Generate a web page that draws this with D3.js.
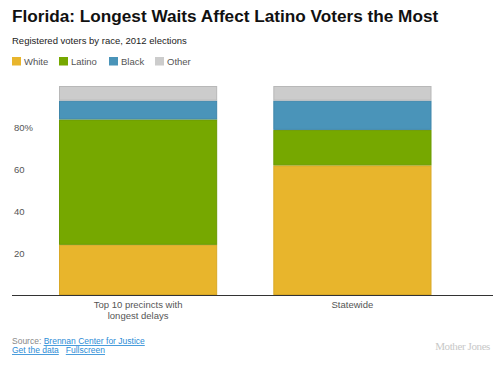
<!DOCTYPE html>
<html>
<head>
<meta charset="utf-8">
<script src="https://cdn.jsdelivr.net/npm/d3@7"></script>
<style>
  body { margin: 0; background: #fff; font-family: Arial, "Liberation Sans", sans-serif; }
</style>
</head>
<body>
<script>
// chart data
const categories = ["Top 10 precincts with longest delays", "Statewide"]
const races = ["White", "Latino", "Black", "Other"]
const white = [24, 62]
const latino = [60, 17]
const black = [9, 14]
const other = [7, 7]
const yTicks = [20, 40, 60, 80]

const colors = ["#e8b52c", "#76a800", "#4a94b9", "#cccccc"]
const strokes = ["#d9a826", "#6b9a00", "#3f86aa", "#b8b8b8"]

const width = 500, height = 365
const margin = { top: 86, bottom: 70 }

const svg = d3.select("body").append("svg")
    .attr("width", width)
    .attr("height", height)
    .style("font-family", "Arial, 'Liberation Sans', sans-serif")

// title block
svg.append("text")
    .attr("x", 12).attr("y", 22)
    .attr("font-size", 17.2).attr("font-weight", "bold").attr("fill", "#111")
    .text("Florida: Longest Waits Affect Latino Voters the Most")

svg.append("text")
    .attr("x", 12).attr("y", 43.5)
    .attr("font-size", 9.5).attr("fill", "#222")
    .text("Registered voters by race, 2012 elections")

// legend
const legendX = [12, 59, 109, 155]
const legend = svg.append("g").selectAll("g")
    .data(races)
    .join("g")
    .attr("transform", (d, i) => "translate(" + legendX[i] + ",57)")
legend.append("rect")
    .attr("width", 9).attr("height", 8.5)
    .attr("fill", (d, i) => colors[i])
legend.append("text")
    .attr("x", 12).attr("y", 8)
    .attr("font-size", 9.5).attr("fill", "#555")
    .text(d => d)

// stacked data
const rows = categories.map((c, i) => ({
    cat: c, White: white[i], Latino: latino[i], Black: black[i], Other: other[i]
}))
const series = d3.stack().keys(races)(rows)

const x = d3.scaleBand()
    .domain(categories)
    .range([59, 431.5])
    .paddingInner(0.262)
    .paddingOuter(0)

const y = d3.scaleLinear()
    .domain([0, 100])
    .range([height - margin.bottom, margin.top])

const g = svg.append("g")

g.selectAll("g.layer")
    .data(series)
    .join("g")
    .attr("class", "layer")
    .attr("fill", (d, i) => colors[i])
    .attr("stroke", (d, i) => strokes[i])
    .selectAll("rect")
    .data(d => d)
    .join("rect")
    .attr("x", d => x(d.data.cat) + 0.5)
    .attr("y", d => y(d[1]) + 0.5)
    .attr("width", x.bandwidth() - 1)
    .attr("height", d => y(d[0]) - y(d[1]) - 1)
    .attr("stroke-width", 1)

// y tick labels
svg.append("g").selectAll("text")
    .data(yTicks)
    .join("text")
    .attr("x", 14)
    .attr("y", d => y(d) + 3.5)
    .attr("font-size", 9.5).attr("fill", "#555")
    .text(d => d === 80 ? d + "%" : d)

// baseline axis
const axis = svg.append("g")
    .attr("transform", "translate(0," + y(0) + ")")
    .call(d3.axisBottom(x).tickSize(0).tickFormat(""))
axis.select(".domain").attr("stroke", "#333").attr("stroke-width", 1.2)
    .attr("d", "M12,0.5H493")

// category labels, wrapped
const labelLines = [["Top 10 precincts with", "longest delays"], ["Statewide"]]
const labels = svg.append("g").selectAll("text")
    .data(categories)
    .join("text")
    .attr("text-anchor", "middle")
    .attr("font-size", 9.5).attr("fill", "#555")
    .attr("x", d => x(d) + x.bandwidth() / 2)
    .attr("y", y(0) + 13)
labels.selectAll("tspan")
    .data((d, i) => labelLines[i])
    .join("tspan")
    .attr("x", function () { return this.parentNode.getAttribute("x") })
    .attr("dy", (d, i) => i ? 10.5 : 0)
    .text(d => d)

// footer
const foot = svg.append("text").attr("x", 12).attr("y", 344).attr("font-size", 8.5)
foot.append("tspan").attr("fill", "#888").text("Source: ")
foot.append("tspan").attr("fill", "#2b8cd6").attr("text-decoration", "underline").text("Brennan Center for Justice")

const foot2 = svg.append("text").attr("x", 12).attr("y", 353).attr("font-size", 8.5).attr("fill", "#2b8cd6")
foot2.append("tspan").attr("text-decoration", "underline").text("Get the data")
foot2.append("tspan").attr("dx", 7).attr("text-decoration", "underline").text("Fullscreen")

svg.append("text")
    .attr("x", 490).attr("y", 350)
    .attr("text-anchor", "end")
    .attr("font-size", 11)
    .attr("font-family", "'Liberation Serif', 'DejaVu Serif', serif")
    .attr("fill", "#c8c8c8")
    .attr("letter-spacing", -0.4)
    .text("Mother Jones")
</script>
</body>
</html>
